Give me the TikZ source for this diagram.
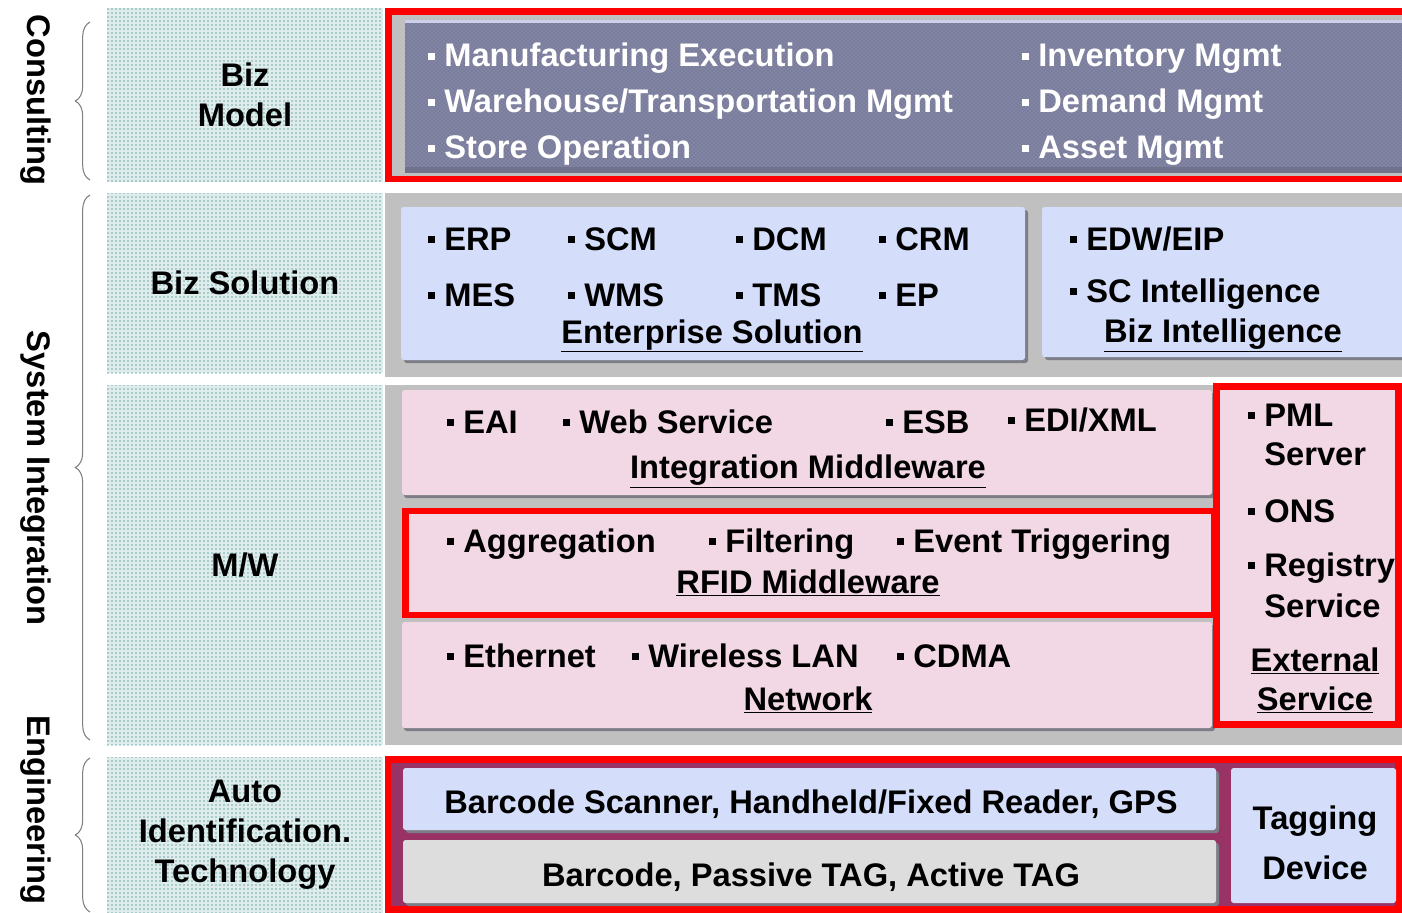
\documentclass[tikz,border=0pt]{standalone}
\usepackage{fontspec}
\newfontfamily\lf{Liberation Sans}
\usetikzlibrary{patterns,decorations.pathreplacing}
\definecolor{grayb}{RGB}{192,192,192}
\definecolor{lblue}{RGB}{212,221,250}
\definecolor{lpink}{RGB}{242,216,228}
\definecolor{slate}{RGB}{122,124,155}
\definecolor{slatep}{RGB}{165,167,195}
\definecolor{slatetop}{RGB}{205,207,235}
\definecolor{slatebot}{RGB}{112,114,140}
\definecolor{plum}{RGB}{153,51,102}
\definecolor{lgray}{RGB}{221,221,221}
\definecolor{shad}{RGB}{125,125,135}
\definecolor{dteal}{RGB}{0,95,95}
\definecolor{lteal}{RGB}{222,236,236}
\definecolor{rred}{RGB}{255,0,0}
\definecolor{bgray}{RGB}{128,128,128}
\newcommand\sq{\rule[0.22em]{0.2em}{0.2em}\hspace{0.3em}}
\newcommand\nsq{\hspace{0.5em}}
\begin{document}
\begin{tikzpicture}[x=0.75pt,y=-0.75pt,
  every node/.style={font=\lf\bfseries\fontsize{24.5}{30}\selectfont, inner sep=0pt, outer sep=0pt},
  item/.style={anchor=base west},
  ctr/.style={anchor=base},
  wt/.style={text=white},
  col/.style={preaction={fill=lteal}, pattern=dots, pattern color=dteal, align=center, minimum width=207pt},
  redframe/.style={draw=rred, line width=5pt},
  bracestyle/.style={draw=bgray, line width=0.8pt, decorate, decoration={brace, amplitude=11pt}},
  side/.style={rotate=-90, anchor=center}
]
\useasboundingbox (0,0) rectangle (1402,913);

% ---------- left columns ----------
\node[col, minimum height=130.5pt] (cbm) at (245,95) {Biz\\Model};
\node[col, minimum height=135pt] (cbs) at (245,283) {Biz Solution};
\node[col, minimum height=270pt] (cmw) at (245,565) {M/W};
\node[col, minimum height=117pt] (cai) at (245,835) {Auto\\Identification.\\Technology};

% ---------- side labels and braces ----------
\node[side] (lcons) at (36,100) {Consulting};
\node[side] (lsi) at (36,478) {System Integration};
\node[side] (leng) at (36,810) {Engineering};
\draw[bracestyle] (90,180) -- (90,22);
\draw[bracestyle] (90,740) -- (90,195);
\draw[bracestyle] (90,912) -- (90,758);

% ---------- row 1: Biz model ----------
\fill[grayb] (385,8) rectangle (1402,182);
\fill[slate] (405,20) rectangle (1402,173);
\fill[pattern=crosshatch dots, pattern color=slatep] (405,20) rectangle (1402,173);
\fill[slatetop] (405,20) rectangle (1402,23);
\fill[slatebot] (405,167) rectangle (1402,173);
\draw[redframe] (388.5,11.5) rectangle (1410,179);
\node[item,wt] (m1) at (428,67) {\sq Manufacturing Execution};
\node[item,wt] (m2) at (428,113) {\sq Warehouse/Transportation Mgmt};
\node[item,wt] (m3) at (428,159) {\sq Store Operation};
\node[item,wt] (m4) at (1022,67) {\sq Inventory Mgmt};
\node[item,wt] (m5) at (1022,113) {\sq Demand Mgmt};
\node[item,wt] (m6) at (1022,159) {\sq Asset Mgmt};

% ---------- row 2: Biz solution ----------
\fill[grayb] (385,193) rectangle (1402,377);
\fill[shad,rounded corners=2pt] (404,210) rectangle (1028,363);
\fill[lblue,rounded corners=2pt] (401,207) rectangle (1025,360);
\fill[shad,rounded corners=2pt] (1045,210) rectangle (1410,360);
\fill[lblue,rounded corners=2pt] (1042,207) rectangle (1410,357);
\node[item] (s1) at (428,250) {\sq ERP};
\node[item] (s2) at (568,250) {\sq SCM};
\node[item] (s3) at (736,250) {\sq DCM};
\node[item] (s4) at (879,250) {\sq CRM};
\node[item] (s5) at (428,306) {\sq MES};
\node[item] (s6) at (568,306) {\sq WMS};
\node[item] (s7) at (736,306) {\sq TMS};
\node[item] (s8) at (879,306) {\sq EP};
\node[ctr] (es) at (712,343) {\underline{Enterprise Solution}};
\node[item] (b1) at (1070,250) {\sq EDW/EIP};
\node[item] (b2) at (1070,302) {\sq SC Intelligence};
\node[ctr] (bi) at (1223,342) {\underline{Biz Intelligence}};

% ---------- row 3: M/W ----------
\fill[grayb] (385,385) rectangle (1402,745);
\fill[shad,rounded corners=2pt] (404,393) rectangle (1215,498);
\fill[lpink,rounded corners=2pt] (402,390) rectangle (1212,495);
\fill[shad,rounded corners=2pt] (404,625) rectangle (1215,731);
\fill[lpink,rounded corners=2pt] (402,622) rectangle (1212,728);
\draw[redframe, fill=lpink] (405.5,511) rectangle (1214,615);
\draw[redframe, fill=lpink] (1216.5,386.5) rectangle (1398.5,724.5);
\node[item] (i1) at (447,433) {\sq EAI};
\node[item] (i2) at (563,433) {\sq Web Service};
\node[item] (i3) at (886,433) {\sq ESB};
\node[item] (i4) at (1008,431) {\sq EDI/XML};
\node[ctr] (im) at (808,478) {\underline{Integration Middleware}};
\node[item] (r1) at (447,552) {\sq Aggregation};
\node[item] (r2) at (709,552) {\sq Filtering};
\node[item] (r3) at (897,552) {\sq Event Triggering};
\node[ctr] (rm) at (808,593) {\underline{RFID Middleware}};
\node[item] (n1) at (447,667) {\sq Ethernet};
\node[item] (n2) at (632,667) {\sq Wireless LAN};
\node[item] (n3) at (897,667) {\sq CDMA};
\node[ctr] (nw) at (808,710) {\underline{Network}};
\node[item] (e1) at (1248,426) {\sq PML};
\node[item] (e2) at (1248,465) {\nsq Server};
\node[item] (e3) at (1248,522) {\sq ONS};
\node[item] (e4) at (1248,576) {\sq Registry};
\node[item] (e5) at (1248,617) {\nsq Service};
\node[ctr] (e6) at (1315,671) {\underline{External}};
\node[ctr] (e7) at (1315,710) {\underline{Service}};

% ---------- row 4: Auto ID ----------
\draw[redframe, fill=plum] (388,759.5) rectangle (1398.5,909.5);
\fill[shad,rounded corners=2pt] (406,771) rectangle (1219,833);
\fill[lblue,rounded corners=2pt] (403,768) rectangle (1216,830);
\fill[shad,rounded corners=2pt] (406,843) rectangle (1219,906);
\fill[lgray,rounded corners=2pt] (403,840) rectangle (1216,903);
\fill[lblue,rounded corners=2pt] (1231,768) rectangle (1396,903);
\node[ctr] (a1) at (811,813) {Barcode Scanner, Handheld/Fixed Reader, GPS};
\node[ctr] (a2) at (811,886) {Barcode, Passive TAG, Active TAG};
\node[ctr] (t1) at (1315,829) {Tagging};
\node[ctr] (t2) at (1315,879) {Device};
\end{tikzpicture}
\end{document}
